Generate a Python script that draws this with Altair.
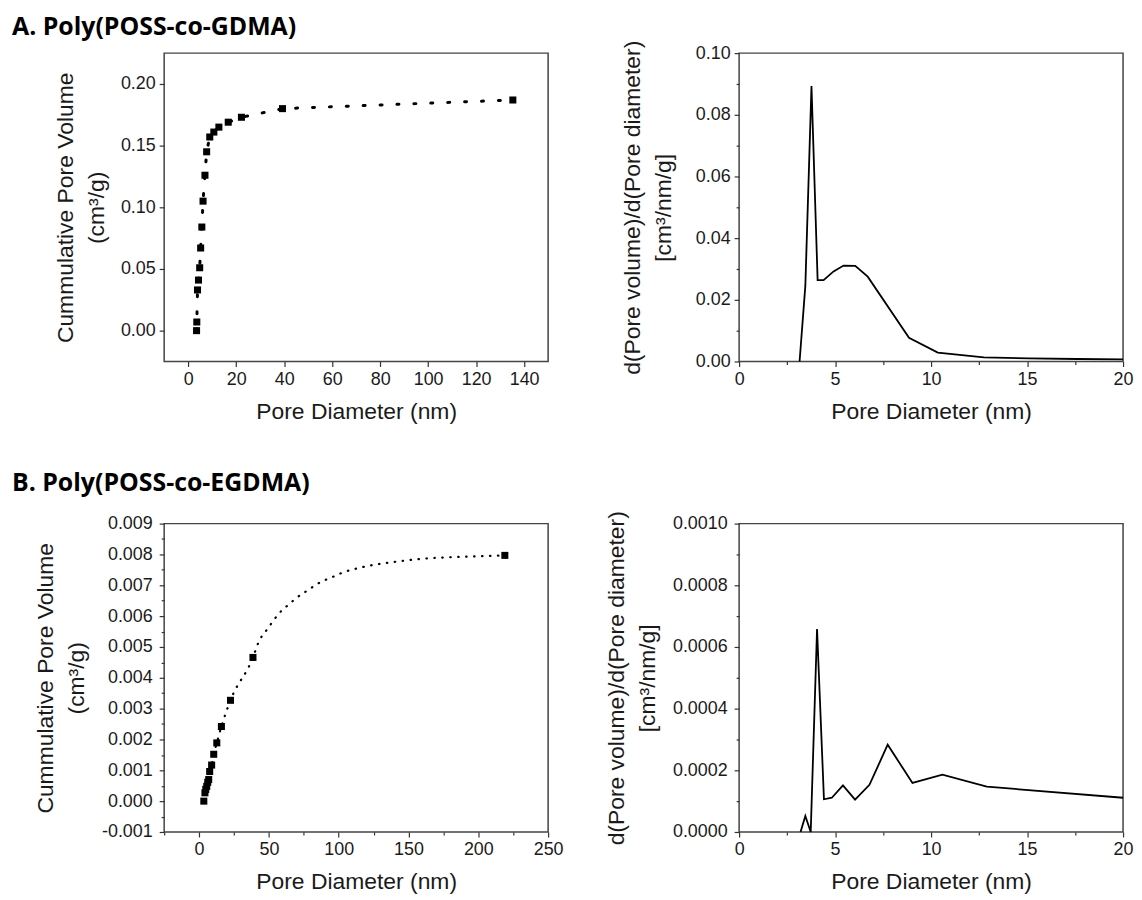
import altair as alt
import pandas as pd

# ---------------- data ----------------
# A. Poly(POSS-co-GDMA) – cumulative pore volume (squares)
a_cum_x = [3.5, 3.6, 3.9, 4.3, 4.8, 5.2, 5.7, 6.2, 7.0, 7.7, 9.0, 10.7, 12.8, 16.7, 22.2, 39.3, 135.3]
a_cum_y = [0.000, 0.007, 0.033, 0.041, 0.051, 0.067, 0.084, 0.105, 0.126, 0.145, 0.157, 0.161,
           0.165, 0.169, 0.173, 0.180, 0.187]
# A. pore size distribution
a_dist_x = [3.15, 3.45, 3.77, 4.09, 4.40, 4.92, 5.44, 6.05, 6.70, 8.85, 10.35, 12.75, 15.1, 17.6, 20.0]
a_dist_y = [0.0, 0.0245, 0.0893, 0.0264, 0.0264, 0.0292, 0.0311, 0.0310, 0.0275, 0.0077, 0.0029,
            0.0013, 0.0010, 0.0008, 0.0007]

# B. Poly(POSS-co-EGDMA) – cumulative pore volume (squares)
b_cum_x = [3.4, 4.2, 4.8, 5.5, 6.2, 6.9, 7.6, 9.0, 10.5, 12.7, 16.0, 22.5, 38.6, 219.0]
b_cum_y = [0.0, 0.00027, 0.00038, 0.00048, 0.00061, 0.00070, 0.00096, 0.00117, 0.00152, 0.00189,
           0.00242, 0.00327, 0.00466, 0.00797]
# B. dotted guide curve between the last squares
b_fit_x = [42.2, 45.0, 48.6, 51.7, 55.7, 60.0, 64.5, 68.8, 73.8, 79.2, 84.9, 90.4, 96.1, 101.6,
           107.5, 113.4, 120.1, 140.0, 160.0, 180.0, 200.0]
b_fit_y = [0.00511, 0.00535, 0.00556, 0.00576, 0.00600, 0.00622, 0.00638, 0.00656, 0.00672, 0.00688,
           0.00705, 0.00717, 0.00728, 0.00739, 0.00748, 0.00755, 0.00762, 0.00776, 0.00786, 0.00791,
           0.00794]
# B. pore size distribution
b_dist_x = [3.2, 3.45, 3.73, 4.06, 4.42, 4.83, 5.41, 6.04, 6.79, 7.74, 9.03, 10.59, 12.9, 20.0]
b_dist_y = [0.0, 0.000052, 0.0, 0.000658, 0.000106, 0.000111, 0.000151, 0.000105, 0.000153,
            0.000283, 0.000159, 0.000186, 0.000147, 0.000111]

# tick values
a_cum_xticks = [0, 20, 40, 60, 80, 100, 120, 140]
a_cum_yticks = [0.00, 0.05, 0.10, 0.15, 0.20]
dist_xmajor = [0, 5, 10, 15, 20]
dist_xminor = [2.5, 7.5, 12.5, 17.5]
a_dist_ymajor = [0.0, 0.02, 0.04, 0.06, 0.08, 0.10]
a_dist_yminor = [0.01, 0.03, 0.05, 0.07, 0.09]
b_cum_xmajor = [0, 50, 100, 150, 200, 250]
b_cum_xminor = [-25, 25, 75, 125, 175, 225]
b_cum_ymajor = [-0.001, 0.0, 0.001, 0.002, 0.003, 0.004, 0.005, 0.006, 0.007, 0.008, 0.009]
b_cum_yminor = [-0.0005, 0.0005, 0.0015, 0.0025, 0.0035, 0.0045, 0.0055, 0.0065, 0.0075, 0.0085]
b_dist_ymajor = [0.0, 0.0002, 0.0004, 0.0006, 0.0008, 0.0010]
b_dist_yminor = [0.0001, 0.0003, 0.0005, 0.0007, 0.0009]

W, H = 386, 310
LABEL_FONT = "Liberation Sans"
TXT = "#1a1a1a"


def make_axis(title, major, minor, step, fmt, title_pad, label_pad=4):
    vals = sorted(major + minor)
    test = f"abs(datum.value / {step} - round(datum.value / {step})) < 1e-6"
    label_expr = (f"({test}) ? ((datum.value < 0 ? '-' : '') + "
                  f"format(abs(datum.value), '{fmt}')) : ''")
    return alt.Axis(
        title=title, values=vals, labelExpr=label_expr,
        tickSize={"condition": {"test": test, "value": 5}, "value": 3},
        titlePadding=title_pad, grid=False, domain=False,
        labelFlush=False, labelOverlap=False, labelPadding=label_pad,
        tickColor="#333", tickWidth=1.2,
        labelFont=LABEL_FONT, labelFontSize=18, labelColor=TXT,
        titleFont=LABEL_FONT, titleFontSize=23, titleFontWeight="normal",
        titleColor=TXT, titleLineHeight=31,
    )


def enc(xdom, ydom, xaxis, yaxis):
    x = alt.X("x:Q", scale=alt.Scale(domain=xdom, nice=False, zero=False), axis=xaxis)
    y = alt.Y("y:Q", scale=alt.Scale(domain=ydom, nice=False, zero=False), axis=yaxis)
    return x, y


cum_title = ["Cummulative Pore Volume", "(cm³/g)"]
dist_title = ["d(Pore volume)/d(Pore diameter)", "[cm³/nm/g]"]
xt = "Pore Diameter (nm)"
XTP = 12

# ---------- A left ----------
df_a_cum = pd.DataFrame({"x": a_cum_x, "y": a_cum_y})
x, y = enc([-10, 150], [-0.025, 0.225],
           make_axis(xt, a_cum_xticks, [], 20, "d", XTP),
           make_axis(cum_title, a_cum_yticks, [], 0.05, ".2f", 12))
a1 = alt.layer(
    alt.Chart(df_a_cum).mark_line(color="black", strokeWidth=3, strokeDash=[2, 15],
                                  strokeCap="round").encode(x=x, y=y),
    alt.Chart(df_a_cum).mark_point(shape="square", filled=True, size=50, color="black",
                                   opacity=1).encode(x=x, y=y),
).properties(width=W, height=H, title=alt.TitleParams(
    text="A. Poly(POSS-co-GDMA)", anchor="start", frame="group", dx=-153, offset=1,
    baseline="middle", font="Open Sans", fontSize=25, fontWeight="bold", color="black"))

# ---------- A right ----------
df_a_dist = pd.DataFrame({"x": a_dist_x, "y": a_dist_y})
x, y = enc([0, 20], [0, 0.10],
           make_axis(xt, dist_xmajor, dist_xminor, 5, "d", XTP),
           make_axis(dist_title, a_dist_ymajor, a_dist_yminor, 0.02, ".2f", 20))
a2 = alt.Chart(df_a_dist).mark_line(color="black", strokeWidth=1.8).encode(
    x=x, y=y).properties(width=W, height=H)

# ---------- B left ----------
df_b_cum = pd.DataFrame({"x": b_cum_x, "y": b_cum_y})
df_b_line = pd.DataFrame({"x": b_cum_x + b_fit_x, "y": b_cum_y + b_fit_y}).sort_values("x")
x, y = enc([-25, 250], [-0.001, 0.009],
           make_axis(xt, b_cum_xmajor, b_cum_xminor, 50, "d", XTP),
           make_axis(cum_title, b_cum_ymajor, b_cum_yminor, 0.001, ".3f", 13, 7))
b1 = alt.layer(
    alt.Chart(df_b_line).mark_line(color="black", strokeWidth=2.2, strokeDash=[0.5, 7.5],
                                   strokeCap="round", interpolate="monotone").encode(x=x, y=y),
    alt.Chart(df_b_cum).mark_point(shape="square", filled=True, size=50, color="black",
                                   opacity=1).encode(x=x, y=y),
).properties(width=W, height=H, title=alt.TitleParams(
    text="B. Poly(POSS-co-EGDMA)", anchor="start", frame="group", dx=-153, offset=7,
    baseline="middle", font="Open Sans", fontSize=25, fontWeight="bold", color="black"))

# ---------- B right ----------
df_b_dist = pd.DataFrame({"x": b_dist_x, "y": b_dist_y})
x, y = enc([0, 20], [0, 0.0010],
           make_axis(xt, dist_xmajor, dist_xminor, 5, "d", XTP),
           make_axis(dist_title, b_dist_ymajor, b_dist_yminor, 0.0002, ".4f", 13, 7))
b2 = alt.Chart(df_b_dist).mark_line(color="black", strokeWidth=1.8).encode(
    x=x, y=y).properties(width=W, height=H)

chart = alt.concat(
    a1, a2, b1, b2, columns=2, bounds="flush",
    spacing={"row": 163, "column": 192},
).properties(
    padding={"left": 3, "top": 4, "right": 0, "bottom": 0},
    background="white",
).configure_view(stroke="#444", strokeWidth=1.5)

chart.save("out.html", embed_options={"renderer": "svg", "actions": False})
